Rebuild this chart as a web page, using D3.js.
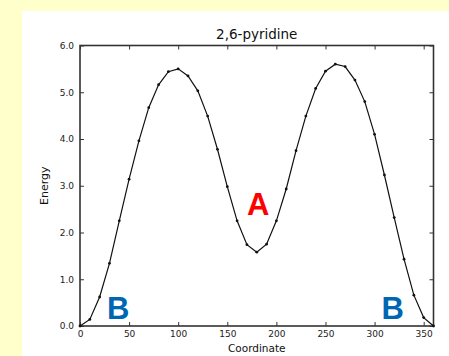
<!DOCTYPE html>
<html>
<head>
<meta charset="utf-8">
<script src="https://cdn.jsdelivr.net/npm/d3@7/dist/d3.min.js"></script>
<style>
  html, body { margin: 0; padding: 0; background: #ffffcc; }
  svg { display: block; }
</style>
</head>
<body>
<script>
// Torsion scan energies for 2,6-pyridine
const coordinates = [0,10,20,30,40,50,60,70,80,90,100,110,120,130,140,150,160,170,180,
                     190,200,210,220,230,240,250,260,270,280,290,300,310,320,330,340,350,360];
const energies = [0.00,0.14,0.62,1.34,2.25,3.14,3.96,4.67,5.16,5.44,5.50,5.35,5.03,4.49,3.78,2.98,2.25,1.74,1.58,
                  1.75,2.25,2.93,3.75,4.49,5.08,5.45,5.60,5.55,5.26,4.80,4.10,3.23,2.32,1.43,0.66,0.18,0.00];
const xTicks = [0,50,100,150,200,250,300,350];
const yTicks = [0,1,2,3,4,5,6];
const regionLabels = [
  { text: "A", x: 181.5, y: 2.37, color: "#ff0000" },
  { text: "B", x: 39,    y: 0.15, color: "#0066b3" },
  { text: "B", x: 318.5, y: 0.15, color: "#0066b3" }
];

const W = 449, H = 356;
const svg = d3.select("body").append("svg").attr("width", W).attr("height", H);

// white figure panel
svg.append("rect").attr("x", 22).attr("y", 11).attr("width", W - 22).attr("height", H - 11).attr("fill", "#ffffff");

const plotLeft = 80, plotRight = 433.5, plotTop = 45.5, plotBottom = 326;
const x = d3.scaleLinear().domain([0, 360]).range([plotLeft, plotRight]);
const y = d3.scaleLinear().domain([0, 6]).range([plotBottom, plotTop]);

const font = "DejaVu Sans, sans-serif";
const axisColor = "#333";

// ticks pointing inward on all four sides
const gx = svg.append("g").attr("transform", `translate(0,${plotBottom})`)
  .call(d3.axisBottom(x).tickValues(xTicks).tickSizeInner(-4).tickSizeOuter(0).tickPadding(5).tickFormat(d3.format("d")));
const gxt = svg.append("g").attr("transform", `translate(0,${plotTop})`)
  .call(d3.axisTop(x).tickValues(xTicks).tickSizeInner(-4).tickSizeOuter(0).tickFormat(""));
const gy = svg.append("g").attr("transform", `translate(${plotLeft},0)`)
  .call(d3.axisLeft(y).tickValues(yTicks).tickSizeInner(-4).tickSizeOuter(0).tickPadding(6).tickFormat(d3.format(".1f")));
const gyr = svg.append("g").attr("transform", `translate(${plotRight},0)`)
  .call(d3.axisRight(y).tickValues(yTicks).tickSizeInner(-4).tickSizeOuter(0).tickFormat(""));

[gx, gxt, gy, gyr].forEach(g => {
  g.select(".domain").remove();
  g.selectAll(".tick line").attr("stroke", axisColor).attr("stroke-width", 1);
  g.selectAll(".tick text").attr("fill", "#222").style("font-family", font).style("font-size", "9px");
});

// plot frame
svg.append("rect").attr("x", plotLeft).attr("y", plotTop).attr("width", plotRight - plotLeft).attr("height", plotBottom - plotTop)
  .attr("fill", "none").attr("stroke", axisColor).attr("stroke-width", 1.6);

// energy profile
const pts = coordinates.map((c, i) => [c, energies[i]]);
svg.append("path").datum(pts)
  .attr("fill", "none").attr("stroke", "#111").attr("stroke-width", 1.2)
  .attr("d", d3.line().x(d => x(d[0])).y(d => y(d[1])));
svg.append("g").selectAll("circle").data(pts).join("circle")
  .attr("cx", d => x(d[0])).attr("cy", d => y(d[1])).attr("r", 1.4).attr("fill", "#111");

// region labels
svg.append("g").selectAll("text").data(regionLabels).join("text")
  .attr("x", d => x(d.x)).attr("y", d => y(d.y))
  .attr("text-anchor", "middle")
  .attr("fill", d => d.color)
  .style("font-family", "Liberation Sans, Arial, sans-serif").style("font-weight", "bold").style("font-size", "31px")
  .text(d => d.text);

// title and axis labels
svg.append("text").attr("x", (plotLeft + plotRight) / 2).attr("y", 39).attr("text-anchor", "middle")
  .style("font-family", font).style("font-size", "13.5px").attr("fill", "#111").text("2,6-pyridine");
svg.append("text").attr("x", (plotLeft + plotRight) / 2).attr("y", 352).attr("text-anchor", "middle")
  .style("font-family", font).style("font-size", "10.5px").attr("fill", "#111").text("Coordinate");
svg.append("text").attr("transform", `translate(48,${(plotTop + plotBottom) / 2}) rotate(-90)`).attr("text-anchor", "middle")
  .style("font-family", font).style("font-size", "11px").attr("fill", "#111").text("Energy");
</script>
</body>
</html>
